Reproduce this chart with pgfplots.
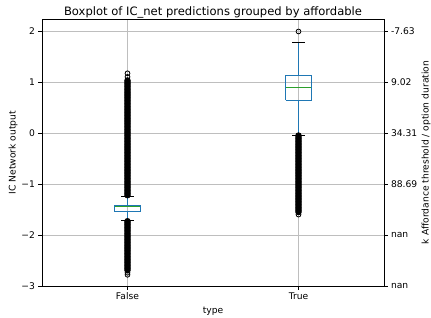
\documentclass[border=0pt]{standalone}
\usepackage{fontspec}
\setmainfont{DejaVu Sans}
\newfontfamily\serifbig{Liberation Serif}
\usepackage{pgfplots}
\pgfplotsset{compat=1.18}
\definecolor{C0}{RGB}{31,119,180}
\definecolor{C2}{RGB}{44,160,44}
\definecolor{gridgray}{RGB}{190,190,190}
\newcommand{\tfont}{\fontsize{9.2}{11}\selectfont}
\begin{document}
\begin{tikzpicture}[x=1bp,y=1bp]
\begin{axis}[
  at={(42bp,32bp)}, anchor=south west,
  scale only axis, width=342bp, height=267bp,
  xmin=0.5, xmax=2.5, ymin=-3, ymax=2.235,
  xtick={1,2}, xticklabels={False,True},
  ytick={-3,-2,-1,0,1,2}, yticklabels={−3,−2,−1,0,1,2},
  grid=major, major grid style={gridgray, line width=0.7bp},
  tick align=outside, major tick length=3.5bp,
  tick style={black, line width=0.8bp},
  xtick pos=bottom, ytick pos=left,
  axis line style={line width=0.8bp},
  ticklabel style={font=\tfont},
  title={Boxplot of IC\_net predictions grouped by affordable},
  title style={font=\fontsize{11.6}{13}\selectfont, at={(rel axis cs:0.5,1)}, anchor=base, yshift=-2bp},
  xlabel={type},
  xlabel style={font=\tfont, at={(rel axis cs:0.5,0)}, anchor=base, yshift=-27bp},
  ylabel={IC Network output},
  ylabel style={font=\tfont, at={(rel axis cs:0,0.5)}, anchor=center, yshift=29bp},
  clip=false,
]
% whiskers
\addplot[C0, line width=1bp] coordinates {(1,-1.42) (1,-1.25)};
\addplot[C0, line width=1bp] coordinates {(1,-1.54) (1,-1.71)};
\addplot[C0, line width=1bp] coordinates {(2,1.137) (2,1.77)};
\addplot[C0, line width=1bp] coordinates {(2,0.647) (2,-0.05)};
% caps
\addplot[black, line width=0.9bp] coordinates {(0.9625,-1.25) (1.0375,-1.25)};
\addplot[black, line width=0.9bp] coordinates {(0.9625,-1.71) (1.0375,-1.71)};
\addplot[black, line width=0.9bp] coordinates {(1.9625,1.77) (2.0375,1.77)};
\addplot[black, line width=0.9bp] coordinates {(1.9625,-0.05) (2.0375,-0.05)};
% boxes
\addplot[C0, line width=0.9bp] coordinates {(0.925,-1.543) (1.075,-1.543) (1.075,-1.418) (0.925,-1.418) (0.925,-1.543)};
\addplot[C0, line width=0.9bp] coordinates {(1.925,0.647) (2.075,0.647) (2.075,1.137) (1.925,1.137) (1.925,0.647)};
% medians
\addplot[C2, line width=0.9bp] coordinates {(0.925,-1.45) (1.075,-1.45)};
\addplot[C2, line width=0.9bp] coordinates {(1.925,0.89) (2.075,0.89)};
% dense fliers
\addplot[only marks, mark=*, mark size=2.8bp, mark options={fill=black, draw=black, line width=0.8bp}] coordinates {
(1,-1.22)(1,-1.19)(1,-1.16)(1,-1.13)(1,-1.10)(1,-1.07)(1,-1.04)(1,-1.01)(1,-0.98)(1,-0.95)
(1,-0.92)(1,-0.89)(1,-0.86)(1,-0.83)(1,-0.80)(1,-0.77)(1,-0.74)(1,-0.71)(1,-0.68)(1,-0.65)
(1,-0.62)(1,-0.59)(1,-0.56)(1,-0.53)(1,-0.50)(1,-0.47)(1,-0.44)(1,-0.41)(1,-0.38)(1,-0.35)
(1,-0.32)(1,-0.29)(1,-0.26)(1,-0.23)(1,-0.20)(1,-0.17)(1,-0.14)(1,-0.11)(1,-0.08)(1,-0.05)
(1,-0.02)(1,0.01)(1,0.04)(1,0.07)(1,0.10)(1,0.13)(1,0.16)(1,0.19)(1,0.22)(1,0.25)
(1,0.28)(1,0.31)(1,0.34)(1,0.37)(1,0.40)(1,0.43)(1,0.46)(1,0.49)(1,0.52)(1,0.55)
(1,0.58)(1,0.61)(1,0.64)(1,0.67)(1,0.70)(1,0.73)(1,0.76)(1,0.79)(1,0.82)(1,0.85)
(1,0.88)(1,0.91)(1,0.94)(1,0.97)(1,1.00)(1,1.03)
(1,-1.73)(1,-1.76)(1,-1.79)(1,-1.82)(1,-1.85)(1,-1.88)(1,-1.91)(1,-1.94)(1,-1.97)(1,-2.00)
(1,-2.03)(1,-2.06)(1,-2.09)(1,-2.12)(1,-2.15)(1,-2.18)(1,-2.21)(1,-2.24)(1,-2.27)(1,-2.30)
(1,-2.33)(1,-2.36)(1,-2.39)(1,-2.42)(1,-2.45)(1,-2.48)(1,-2.51)(1,-2.54)(1,-2.57)(1,-2.60)
(1,-2.63)(1,-2.66)(1,-2.69)
(2,-0.05)(2,-0.08)(2,-0.11)(2,-0.14)(2,-0.17)(2,-0.20)(2,-0.23)(2,-0.26)(2,-0.29)(2,-0.32)
(2,-0.35)(2,-0.38)(2,-0.41)(2,-0.44)(2,-0.47)(2,-0.50)(2,-0.53)(2,-0.56)(2,-0.59)(2,-0.62)
(2,-0.65)(2,-0.68)(2,-0.71)(2,-0.74)(2,-0.77)(2,-0.80)(2,-0.83)(2,-0.86)(2,-0.89)(2,-0.92)
(2,-0.95)(2,-0.98)(2,-1.01)(2,-1.04)(2,-1.07)(2,-1.10)(2,-1.13)(2,-1.16)(2,-1.19)(2,-1.22)
(2,-1.25)(2,-1.28)(2,-1.31)(2,-1.34)(2,-1.37)(2,-1.40)(2,-1.43)(2,-1.46)(2,-1.49)(2,-1.52)
(2,-1.55)
};
% sparse fliers
\addplot[only marks, mark=o, mark size=2.4bp, mark options={draw=black, line width=0.8bp}] coordinates {
(1,1.17)(1,1.10)(1,-2.74)(1,-2.78)(2,1.99)(2,-1.60)
};
\end{axis}
\begin{axis}[
  at={(42bp,32bp)}, anchor=south west,
  scale only axis, width=342bp, height=267bp,
  xmin=0.5, xmax=2.5, ymin=-3, ymax=2.235,
  hide x axis,
  axis y line*=right,
  ytick={-3,-2,-1,0,1,2}, yticklabels={nan,nan,88.69,34.31,9.02,-7.63},
  tick align=outside, major tick length=3.5bp,
  tick style={black, line width=0.8bp},
  axis line style={line width=0.8bp},
  ticklabel style={font=\tfont},
  ylabel={k Affordance threshold / option duration},
  ylabel style={font=\tfont, at={(rel axis cs:1,0.5)}, anchor=center, yshift=-42bp},
]
\addplot[draw=none] coordinates {(1,0)};
\end{axis}
\node[anchor=base, inner sep=0pt, font=\serifbig\bfseries\fontsize{22}{24}\selectfont] at (205bp,-27.5bp) {d Predicted IC\_net value distribution by affordable type};
\pgfresetboundingbox
\useasboundingbox (0,0) rectangle (431bp,318bp);
\end{tikzpicture}
\end{document}
